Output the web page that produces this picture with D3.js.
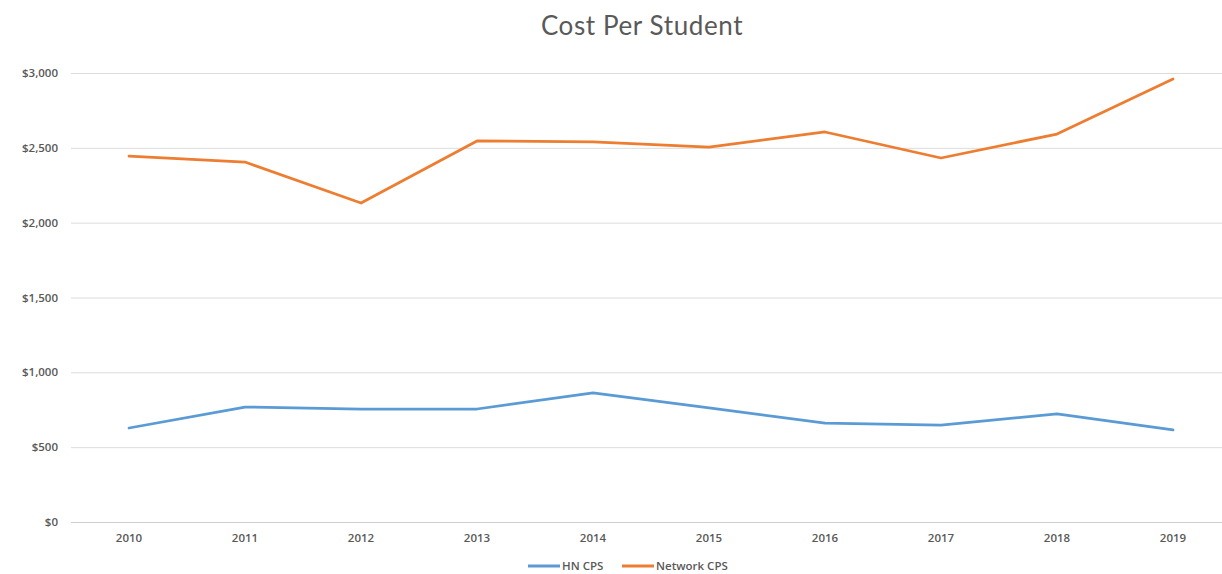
<!DOCTYPE html>
<html>
<head>
<meta charset="utf-8">
<script src="https://cdn.jsdelivr.net/npm/d3@7"></script>
<style>
body { margin: 0; background: #fff; }
text { font-family: "Open Sans", "Liberation Sans", sans-serif; }
</style>
</head>
<body>
<script>
const years = ["2010", "2011", "2012", "2013", "2014", "2015", "2016", "2017", "2018", "2019"];
const hnCps = [628, 768, 755, 755, 862, 762, 661, 648, 722, 615];
const networkCps = [2445, 2405, 2131, 2546, 2539, 2505, 2606, 2432, 2592, 2960];
const yTicks = [0, 500, 1000, 1500, 2000, 2500, 3000];

const W = 1222, H = 574;
const margin = {top: 73, right: 0, bottom: 52, left: 71},
width = W - margin.left - margin.right,
height = H - margin.top - margin.bottom;

const svg = d3.select("body")
.append("svg")
.attr("width", W)
.attr("height", H);

const g = svg.append("g")
.attr("transform", `translate(${margin.left},${margin.top})`);

const x = d3.scalePoint()
.domain(years)
.range([58, 58 + 116 * 9]);

const y = d3.scaleLinear()
.domain([0, 3000])
.range([height, 0]);

// grid lines
g.append("g")
.selectAll("line")
.data(yTicks)
.enter()
.append("line")
.attr("x1", 0)
.attr("x2", width)
.attr("y1", d => y(d) + 0.5)
.attr("y2", d => y(d) + 0.5)
.style("stroke", d => d === 0 ? "#d0d0d0" : "#dcdcdc")
.style("stroke-width", 1);

// y labels
g.append("g")
.selectAll("text")
.data(yTicks)
.enter()
.append("text")
.attr("x", -13)
.attr("y", d => y(d))
.attr("dy", "0.35em")
.attr("text-anchor", "end")
.style("font-size", "11.5px")
.style("font-weight", "600")
.style("fill", "#595959")
.text(d => d3.format("$,")(d));

// x labels
g.append("g")
.selectAll("text")
.data(years)
.enter()
.append("text")
.attr("x", d => x(d))
.attr("y", height + 20)
.attr("text-anchor", "middle")
.style("font-size", "11.5px")
.style("font-weight", "600")
.style("fill", "#595959")
.text(d => d);

const line = d3.line()
.x((d, i) => x(years[i]))
.y(d => y(d));

const series = [
  {name: "HN CPS", values: hnCps, color: "#5B9BD5"},
  {name: "Network CPS", values: networkCps, color: "#ED7D31"}
];

series.forEach(s => {
  g.append("path")
  .datum(s.values)
  .attr("d", line)
  .style("fill", "none")
  .style("stroke", s.color)
  .style("stroke-width", 2.75)
  .style("stroke-linejoin", "round")
  .style("stroke-linecap", "round");
});

// title
svg.append("text")
.attr("x", 642)
.attr("y", 35)
.attr("text-anchor", "middle")
.style("font-family", "Lato, 'Open Sans', sans-serif")
.style("font-size", "26px")
.style("letter-spacing", "0.6px")
.style("fill", "#595959")
.text("Cost Per Student");

// legend
const legendX = [528, 622];
series.forEach((s, i) => {
  const lg = svg.append("g").attr("transform", `translate(${legendX[i]},566)`);
  lg.append("line")
  .attr("x1", 0).attr("x2", 32)
  .attr("y1", 0).attr("y2", 0)
  .style("stroke", s.color)
  .style("stroke-width", 3);
  lg.append("text")
  .attr("x", 34)
  .attr("y", 0)
  .attr("dy", "0.35em")
  .style("font-size", "11.5px")
  .style("font-weight", "600")
  .style("fill", "#595959")
  .text(s.name);
});
</script>
</body>
</html>
